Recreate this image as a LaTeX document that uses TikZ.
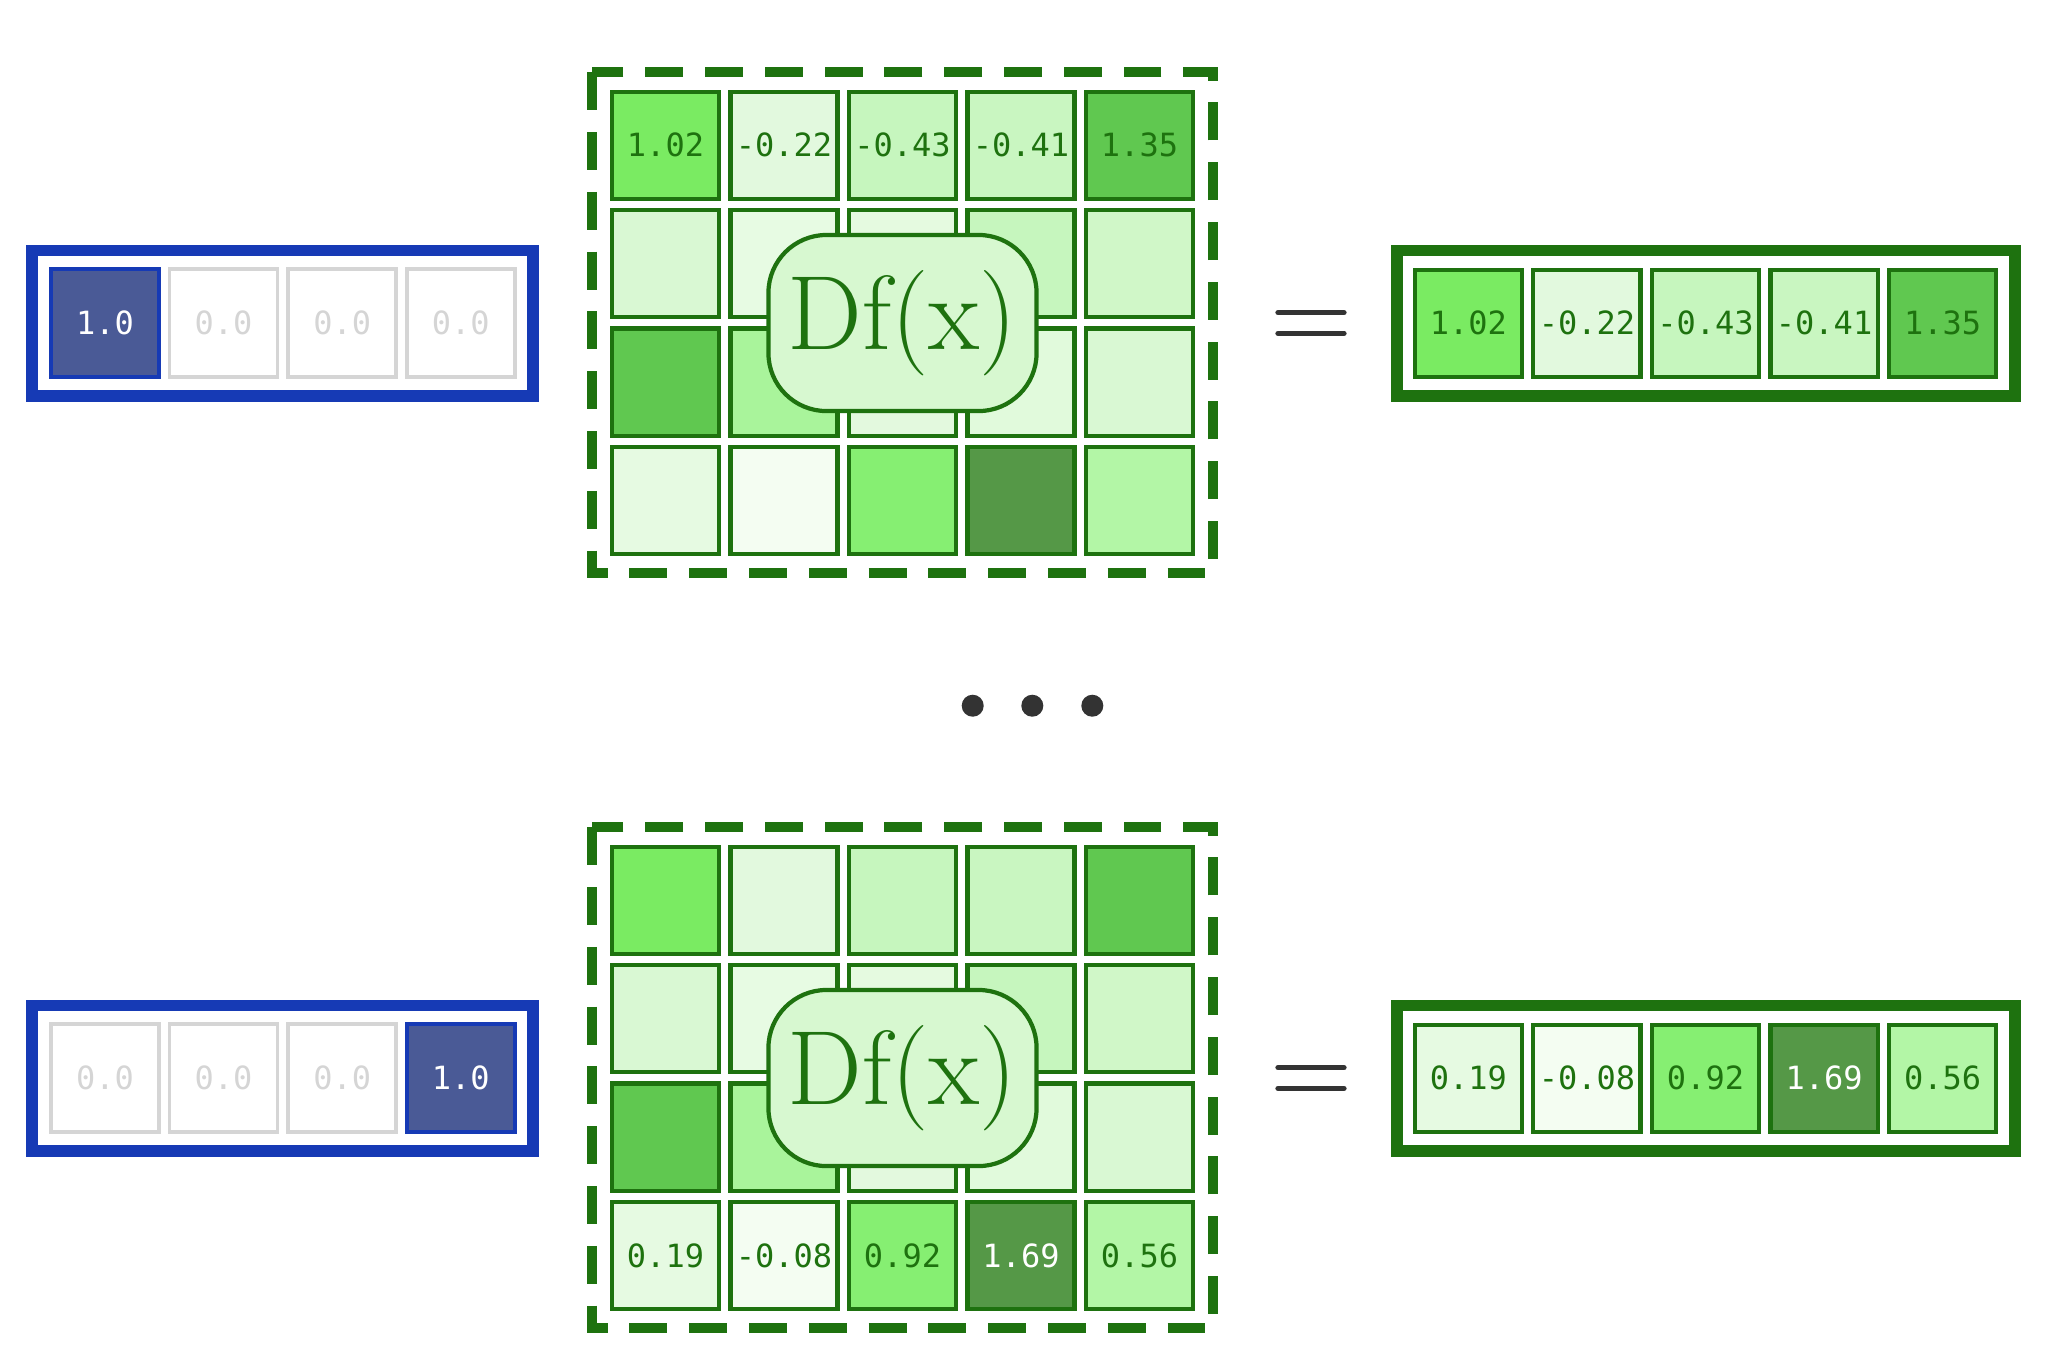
\documentclass[tikz,border=0pt]{standalone}
\usepackage{fontspec}
\newfontfamily\cellfont{DejaVu Sans Mono}
\usepackage{xcolor}
\usetikzlibrary{positioning}

\definecolor{gdark}{HTML}{1E720F}
\definecolor{bframe}{HTML}{163AB5}
\definecolor{bcell}{HTML}{4A5A96}
\definecolor{grayline}{HTML}{D5D5D5}
\definecolor{dotgray}{HTML}{333333}
\definecolor{gbox}{HTML}{D7F8D0}
% jacobian entries
\definecolor{ga}{HTML}{7AEB62}
\definecolor{gb}{HTML}{E2F9DE}
\definecolor{gc}{HTML}{C6F6BE}
\definecolor{gd}{HTML}{C9F6C1}
\definecolor{ge}{HTML}{60C850}
\definecolor{gf}{HTML}{D9F8D3}
\definecolor{gg}{HTML}{E7FBE3}
\definecolor{gh}{HTML}{E5FAE0}
\definecolor{gi}{HTML}{D0F7C8}
\definecolor{gj}{HTML}{A9F49B}
\definecolor{gk}{HTML}{E3F9DE}
\definecolor{gl}{HTML}{E1FADC}
\definecolor{gm}{HTML}{E6FAE2}
\definecolor{gn}{HTML}{F4FDF2}
\definecolor{go}{HTML}{86EF72}
\definecolor{gp}{HTML}{559847}
\definecolor{gq}{HTML}{B3F6A6}

\tikzset{
  cellbox/.style={draw=gdark, line width=1.2pt, minimum width=1.07cm, minimum height=1.07cm,
    inner sep=0pt, text=gdark, font=\cellfont\fontsize{9.1}{11}\selectfont},
  incell/.style={draw=grayline, line width=1pt, minimum width=1.08cm, minimum height=1.08cm,
    inner sep=0pt, text=grayline, font=\cellfont\fontsize{9.1}{11}\selectfont},
  hotcell/.style={incell, draw=bframe, fill=bcell, text=white},
  inframe/.style={draw=bframe, line width=3.2pt},
  outframe/.style={draw=gdark, line width=3.2pt},
  jacframe/.style={draw=gdark, line width=2.85pt, dash pattern=on 10.8pt off 6.2pt},
  dfbox/.style={draw=gdark, fill=gbox, line width=1.2pt, rounded corners=0.58cm,
    minimum width=2.68cm, minimum height=1.76cm, inner sep=0pt, text=gdark,
    font=\fontsize{30}{34}\selectfont},
  eqline/.style={draw=dotgray, line width=1.5pt, line cap=round}
}

\begin{document}
\begin{tikzpicture}[x=0.01cm, y=-0.01cm]
    \useasboundingbox (0,0) rectangle (2048,1347);

    % first basis vector
    \draw [inframe] (32,250.5) rectangle (533,396);
    \node [hotcell] (xa1) at (105,323) {1.0};
    \node [incell] (xa2) at (223.6,323) {0.0};
    \node [incell] (xa3) at (342.2,323) {0.0};
    \node [incell] (xa4) at (460.8,323) {0.0};

    \foreach \c/\fc/\v in {0/ga/1.02, 1/gb/-0.22, 2/gc/-0.43, 3/gd/-0.41, 4/ge/1.35}
        \node [cellbox, fill=\fc] (ja1\c) at ({665.5+118.5*\c},145.3) {\v};
    \foreach \c/\fc in {0/gf, 1/gg, 2/gh, 3/gc, 4/gi}
        \node [cellbox, fill=\fc] (ja2\c) at ({665.5+118.5*\c},263.7) {};
    \foreach \c/\fc in {0/ge, 1/gj, 2/gk, 3/gl, 4/gf}
        \node [cellbox, fill=\fc] (ja3\c) at ({665.5+118.5*\c},382.1) {};
    \foreach \c/\fc in {0/gm, 1/gn, 2/go, 3/gp, 4/gq}
        \node [cellbox, fill=\fc] (ja4\c) at ({665.5+118.5*\c},500.5) {};
    \node [dfbox] (dfa) at (902.5,323) {Df(x)};
    \draw [jacframe] (592.4,72.3) rectangle (1212.9,573.3);

    \draw [eqline] (1278,312.7) -- (1344,312.7) (1278,333.3) -- (1344,333.3);

    \draw [outframe] (1397,250.5) rectangle (2015,396);
    \foreach \c/\fc/\v in {0/ga/1.02, 1/gb/-0.22, 2/gc/-0.43, 3/gd/-0.41, 4/ge/1.35}
        \node [cellbox, fill=\fc] (ya\c) at ({1468.3+118.6*\c},323.3) {\v};

    % dots
    \fill [dotgray] (972.7,705.7) circle (0.11cm);
    \fill [dotgray] (1032.3,705.7) circle (0.11cm);
    \fill [dotgray] (1092.3,705.7) circle (0.11cm);

    % last basis vector
    \begin{scope}[shift={(0,755)}]
    \draw [inframe] (32,250.5) rectangle (533,396);
    \node [incell] (xb1) at (105,323) {0.0};
    \node [incell] (xb2) at (223.6,323) {0.0};
    \node [incell] (xb3) at (342.2,323) {0.0};
    \node [hotcell] (xb4) at (460.8,323) {1.0};

    \foreach \c/\fc in {0/ga, 1/gb, 2/gc, 3/gd, 4/ge}
        \node [cellbox, fill=\fc] (jb1\c) at ({665.5+118.5*\c},145.3) {};
    \foreach \c/\fc in {0/gf, 1/gg, 2/gh, 3/gc, 4/gi}
        \node [cellbox, fill=\fc] (jb2\c) at ({665.5+118.5*\c},263.7) {};
    \foreach \c/\fc in {0/ge, 1/gj, 2/gk, 3/gl, 4/gf}
        \node [cellbox, fill=\fc] (jb3\c) at ({665.5+118.5*\c},382.1) {};
    \foreach \c/\fc/\v/\tc in {0/gm/0.19/gdark, 1/gn/-0.08/gdark, 2/go/0.92/gdark, 3/gp/1.69/white, 4/gq/0.56/gdark}
        \node [cellbox, fill=\fc, text=\tc] (jb4\c) at ({665.5+118.5*\c},500.5) {\v};
    \node [dfbox] (dfb) at (902.5,323) {Df(x)};
    \draw [jacframe] (592.4,72.3) rectangle (1212.9,573.3);

    \draw [eqline] (1278,312.7) -- (1344,312.7) (1278,333.3) -- (1344,333.3);

    \draw [outframe] (1397,250.5) rectangle (2015,396);
    \foreach \c/\fc/\v/\tc in {0/gm/0.19/gdark, 1/gn/-0.08/gdark, 2/go/0.92/gdark, 3/gp/1.69/white, 4/gq/0.56/gdark}
        \node [cellbox, fill=\fc, text=\tc] (yb\c) at ({1468.3+118.6*\c},323.3) {\v};
    \end{scope}
\end{tikzpicture}
\end{document}
